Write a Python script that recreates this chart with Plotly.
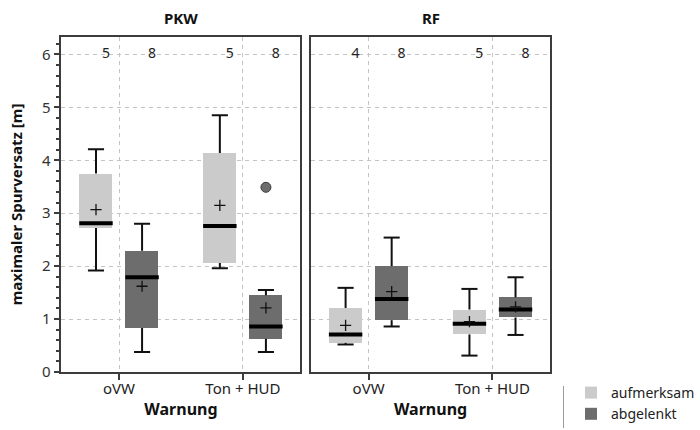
import plotly.graph_objects as go

# ---- data -------------------------------------------------------------
warnungen = ["oVW", "Ton + HUD"]
gruppen = ["aufmerksam", "abgelenkt"]
farben = {"aufmerksam": "#cbcbcb", "abgelenkt": "#6d6d6d"}

# box statistics per panel, group -> one value per Warnung
pkw = {
    "aufmerksam": dict(lo=[1.92, 1.96], q1=[2.72, 2.06], med=[2.81, 2.76],
                       q3=[3.75, 4.14], hi=[4.21, 4.85], mean=[3.07, 3.15], n=[5, 5]),
    "abgelenkt": dict(lo=[0.38, 0.38], q1=[0.83, 0.63], med=[1.79, 0.86],
                      q3=[2.29, 1.45], hi=[2.80, 1.55], mean=[1.62, 1.21], n=[8, 8]),
}
rf = {
    "aufmerksam": dict(lo=[0.52, 0.31], q1=[0.55, 0.71], med=[0.71, 0.91],
                       q3=[1.21, 1.18], hi=[1.59, 1.57], mean=[0.88, 0.95], n=[4, 5]),
    "abgelenkt": dict(lo=[0.86, 0.70], q1=[0.98, 1.03], med=[1.38, 1.18],
                      q3=[2.00, 1.41], hi=[2.54, 1.79], mean=[1.52, 1.23], n=[8, 8]),
}
# outliers: (panel, group, warnung index, value)
ausreisser = [("PKW", "abgelenkt", 1, 3.49)]

panels = [("PKW", pkw), ("RF", rf)]

# ---- geometry ---------------------------------------------------------
offset = {"aufmerksam": -0.186, "abgelenkt": 0.186}
box_w = 0.27
cap_w = 0.13
x_range = [-0.465, 1.465]
y_range = [0, 6.33]
font = "Noto Sans, DejaVu Sans, sans-serif"

fig = go.Figure()

for p, (pname, stats) in enumerate(panels):
    xa = "x" if p == 0 else "x2"
    ya = "y" if p == 0 else "y2"
    for g in gruppen:
        s = stats[g]
        xs = [i + offset[g] for i in range(len(warnungen))]
        # box body
        fig.add_trace(go.Bar(
            x=xs, y=[b - a for a, b in zip(s["q1"], s["q3"])], base=s["q1"],
            width=box_w, marker=dict(color=farben[g], line=dict(width=0)),
            name=g, legendgroup=g, showlegend=(p == 0),
            xaxis=xa, yaxis=ya, hoverinfo="skip"))
        # whiskers with caps
        wx, wy = [], []
        for x, lo, q1, q3, hi in zip(xs, s["lo"], s["q1"], s["q3"], s["hi"]):
            wx += [x, x, None, x, x, None,
                   x - cap_w / 2, x + cap_w / 2, None, x - cap_w / 2, x + cap_w / 2, None]
            wy += [lo, q1, None, q3, hi, None, lo, lo, None, hi, hi, None]
        fig.add_trace(go.Scatter(x=wx, y=wy, mode="lines",
                                 line=dict(color="#111111", width=2),
                                 showlegend=False, xaxis=xa, yaxis=ya, hoverinfo="skip"))
        # median
        mx, my = [], []
        for x, m in zip(xs, s["med"]):
            mx += [x - box_w / 2, x + box_w / 2, None]
            my += [m, m, None]
        fig.add_trace(go.Scatter(x=mx, y=my, mode="lines",
                                 line=dict(color="#000000", width=4),
                                 showlegend=False, xaxis=xa, yaxis=ya, hoverinfo="skip"))
        # mean
        fig.add_trace(go.Scatter(x=xs, y=s["mean"], mode="markers",
                                 marker=dict(symbol="cross-thin", size=8,
                                             line=dict(color="#111111", width=1.3)),
                                 showlegend=False, xaxis=xa, yaxis=ya, hoverinfo="skip"))
        # sample sizes along the top
        fig.add_trace(go.Scatter(x=[x + 0.08 for x in xs], y=[6.0] * len(xs),
                                 text=[str(n) for n in s["n"]], mode="text",
                                 textfont=dict(family=font, size=14, color="#222222"),
                                 showlegend=False, xaxis=xa, yaxis=ya, hoverinfo="skip"))

    out = [(offset[g] + i, v) for (pn, g, i, v) in ausreisser if pn == pname]
    if out:
        fig.add_trace(go.Scatter(x=[o[0] for o in out], y=[o[1] for o in out], mode="markers",
                                 marker=dict(symbol="circle", size=10, color="#6d6d6d",
                                             line=dict(color="#3a3a3a", width=1)),
                                 showlegend=False, xaxis=xa, yaxis=ya, hoverinfo="skip"))

frame = "#3c3c3c"
grid = dict(showgrid=True, gridcolor="#c4c4c4", griddash="4px,4px", gridwidth=1)

xaxis_common = dict(
    range=x_range, tickvals=list(range(len(warnungen))), ticktext=warnungen,
    ticks="outside", ticklen=6, tickwidth=1.5, tickcolor=frame, ticklabelstandoff=-4,
    showline=True, linecolor=frame, linewidth=1.5, mirror=True, automargin=False,
    zeroline=False, tickfont=dict(family=font, size=15, color="#222222"),
    title=dict(text="<b>Warnung</b>", font=dict(family=font, size=16, color="#111111"),
               standoff=6),
    **grid)

yaxis_common = dict(
    range=y_range, dtick=1, showline=True, linecolor=frame, linewidth=1.5,
    mirror=True, zeroline=False, automargin=False, **grid)

fig.update_layout(
    width=700, height=430,
    margin=dict(l=0, r=0, t=0, b=0),
    paper_bgcolor="white", plot_bgcolor="white",
    barmode="overlay", bargap=0,
    showlegend=True,
    legend=dict(x=0.85, y=0.0, xanchor="left", yanchor="bottom",
                font=dict(family=font, size=14, color="#222222"),
                bgcolor="rgba(0,0,0,0)", tracegroupgap=0, itemwidth=30),
    xaxis=dict(domain=[64 / 700, 313 / 700], anchor="y", **xaxis_common),
    xaxis2=dict(domain=[324 / 700, 573 / 700], anchor="y2", **xaxis_common),
    yaxis=dict(domain=[1 - 372 / 430, 1 - 37 / 430], anchor="x",
               ticks="outside", ticklen=6, tickwidth=1.5, tickcolor=frame,
               minor=dict(dtick=0.2, ticks="outside", ticklen=4, tickcolor=frame),
               tickfont=dict(family=font, size=15, color="#333333"),
               title=dict(text="<b>maximaler Spurversatz [m]</b>",
                          font=dict(family=font, size=15, color="#111111"), standoff=16),
               **yaxis_common),
    yaxis2=dict(domain=[1 - 372 / 430, 1 - 37 / 430], anchor="x2",
                showticklabels=False, ticks="", **yaxis_common),
    annotations=[
        dict(text="<b>PKW</b>", x=(64 + 313) / 2 / 700, y=1 - 18 / 430, xref="paper", yref="paper",
             xanchor="center", yanchor="middle",
             showarrow=False, font=dict(family=font, size=15, color="#111111")),
        dict(text="<b>RF</b>", x=(324 + 573) / 2 / 700, y=1 - 18 / 430, xref="paper", yref="paper",
             xanchor="center", yanchor="middle",
             showarrow=False, font=dict(family=font, size=15, color="#111111")),
    ],
    shapes=[dict(type="line", xref="paper", yref="paper",
                 x0=587 / 700, x1=587 / 700, y0=2 / 430, y1=44 / 430,
                 line=dict(color="#9a9a9a", width=1))],
)

fig.write_html("out.html")
